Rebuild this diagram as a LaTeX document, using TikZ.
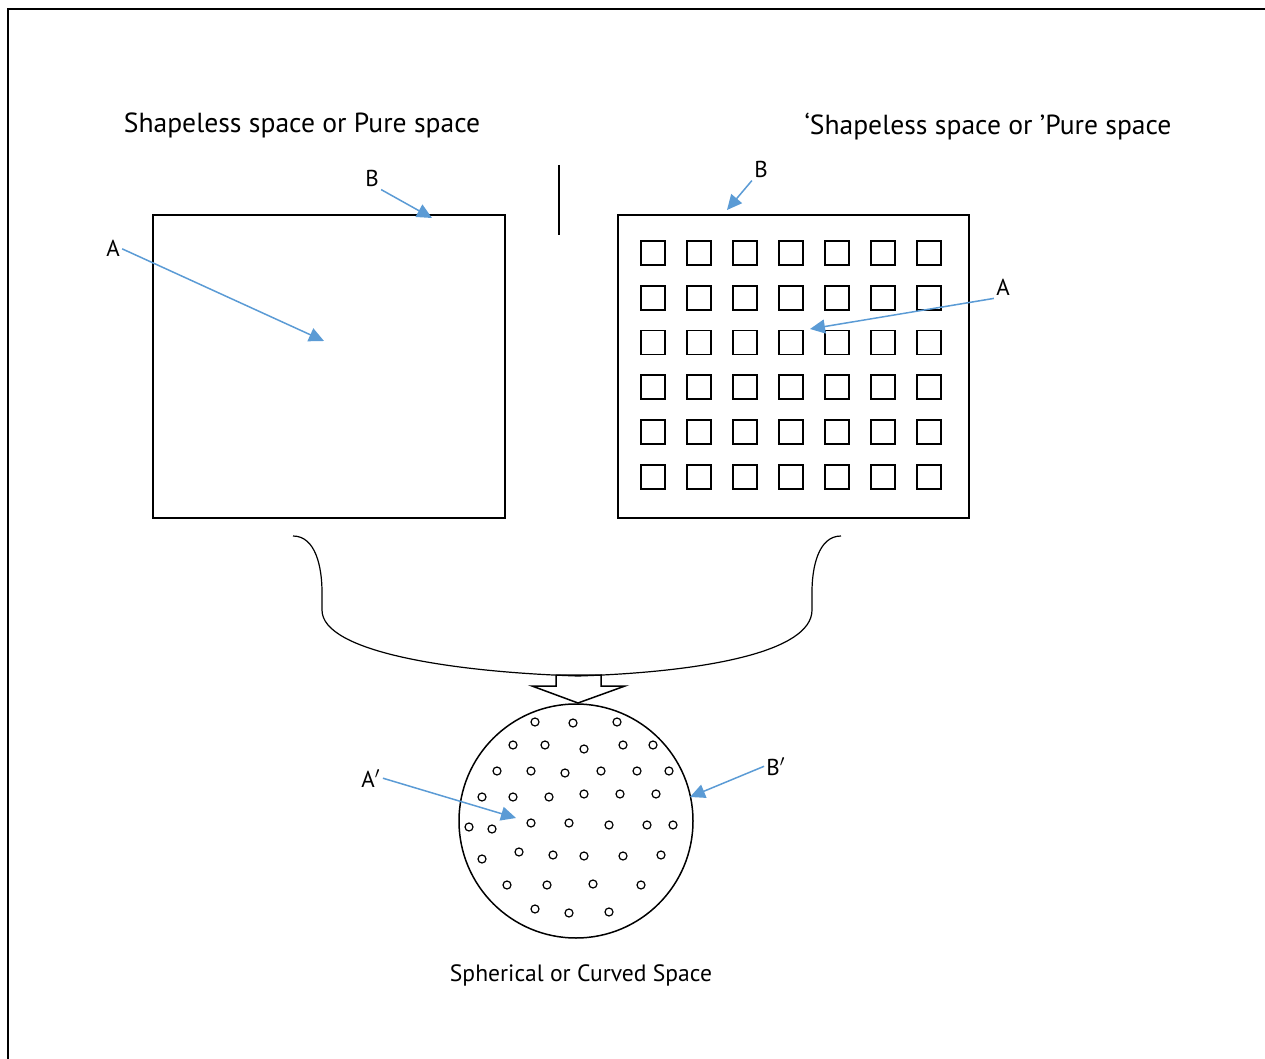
\documentclass[tikz,border=0pt]{standalone}
\usepackage{fontspec}
\setmainfont{PT Sans}
\usetikzlibrary{arrows.meta}
\definecolor{arrowblue}{RGB}{91,155,213}

\begin{document}
\begin{tikzpicture}[x=0.5pt,y=-0.5pt,
  pointer/.style={arrowblue,line width=0.75pt,-{Triangle[length=7.5pt,width=7pt]}},
  lab/.style={font=\fontsize{11.5}{13}\selectfont,inner sep=1pt,anchor=base},
  title/.style={font=\fontsize{13.8}{16}\selectfont,inner sep=0pt,anchor=base}]
\useasboundingbox (0,0) rectangle (1265,1059);
% outer frame
\draw[line width=1pt] (8,1059) -- (8,9) -- (1265,9);

% titles
\node[title] (titleL) at (302,133) {Shapeless space or Pure space};
\node[title] (titleR) at (988,135) {‘Shapeless space or ’Pure space};
\draw[line width=0.75pt] (559,165) -- (559,235);

% plain space
\draw[line width=0.75pt] (153,215) rectangle (505,518);
% space with cells
\draw[line width=0.75pt] (618,215) rectangle (969,518);
\foreach \i in {0,...,6}
  \foreach \j in {0,...,5}
    \draw[line width=0.9pt] (641+46*\i,241+44.8*\j) rectangle ++(24,24);

% brace
\draw[line width=0.6pt] (293,536) .. controls (316,536) and (322,568) .. (322,592)
  -- (322,610) .. controls (322,652) and (452,672) .. (578,676)
  .. controls (704,672) and (812,652) .. (812,610)
  -- (812,592) .. controls (812,568) and (818,536) .. (841,536);
% block arrow
\draw[line width=0.75pt] (556,675) -- (601,675) -- (601,686) -- (625,686) -- (578,703)
  -- (532,686) -- (556,686) -- cycle;

% curved space with points
\draw[line width=0.75pt] (576,821) circle [radius=117];
\foreach \p in {(535,722),(573,723),(617,722),
  (513,745),(545,745),(584,749),(623,745),(653,745),
  (497,771),(531,771),(565,773),(601,771),(637,771),(669,771),
  (482,797),(513,797),(549,797),(584,794),(620,794),(656,794),
  (469,827),(492,829),(531,823),(569,823),(609,825),(647,825),(673,825),
  (482,859),(519,852),(553,855),(584,856),(623,856),(661,855),
  (507,885),(547,885),(593,884),(641,885),
  (535,909),(569,913),(609,912)}
  \draw[line width=0.6pt] \p circle [radius=4];
\node[lab,font=\fontsize{11.8}{14}\selectfont] (titleC) at (581,981) {Spherical or Curved Space};

% labels and pointers
\node[lab] (labA) at (113,257) {A};
\node[lab] (labB) at (372,187) {B};
\node[lab] (labBr) at (761,178) {B};
\node[lab] (labAr) at (1003,296) {A};
\node[lab] (labAc) at (371,787) {A$'$};
\node[lab] (labBc) at (776,775) {B$'$};
\coordinate (tipA) at (324,341);
\coordinate (tipB) at (432,218);
\coordinate (tipBr) at (727,210);
\coordinate (tipAr) at (810,329);
\coordinate (tipAc) at (516,818);
\coordinate (tipBc) at (690,797);
\draw[pointer] (labA.east) -- (tipA);
\draw[pointer] (labB.south east) -- (tipB);
\draw[pointer] (labBr.south west) -- (tipBr);
\draw[pointer] (labAr.south west) -- (tipAr);
\draw[pointer] (labAc.east) -- (tipAc);
\draw[pointer] (labBc.west) -- (tipBc);
\end{tikzpicture}
\end{document}
